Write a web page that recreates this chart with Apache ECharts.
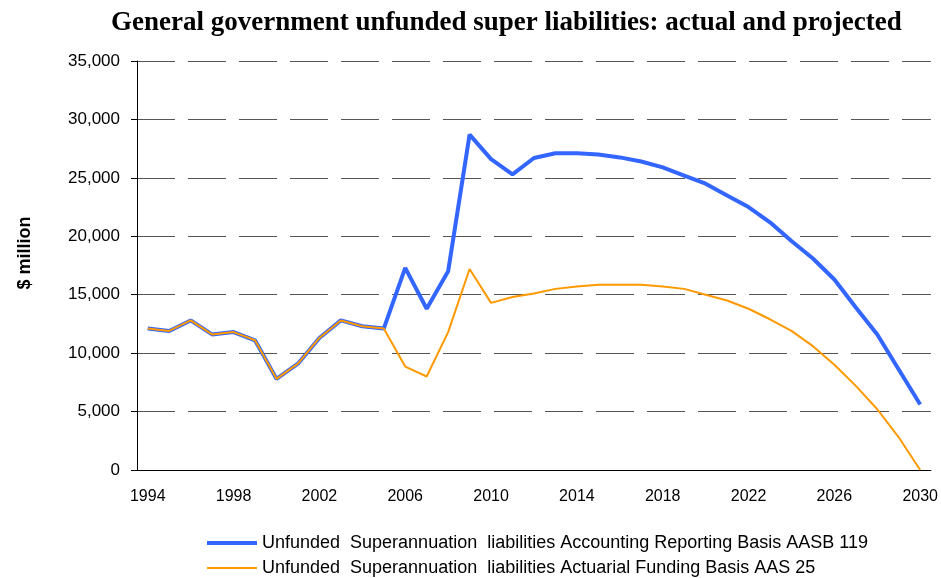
<!DOCTYPE html>
<html>
<head>
<meta charset="utf-8">
<script src="https://cdn.jsdelivr.net/npm/echarts@6/dist/echarts.min.js"></script>
<style>
  html, body { margin: 0; padding: 0; background: #fff; }
  #chart { width: 941px; height: 578px; }
</style>
</head>
<body>
<div id="chart"></div>
<script>
var years = [];
for (var y = 1994; y <= 2030; y++) years.push(String(y));

var aasb119 = [12100, 11900, 12800, 11600, 11800, 11100, 7800, 9100, 11300, 12800, 12300, 12100,
  17300, 13800, 17000, 28700, 26600, 25300, 26700, 27100, 27100, 27000, 26750, 26400, 25900,
  25200, 24500, 23500, 22500, 21200, 19600, 18100, 16300, 13900, 11600, 8600, 5600];

var aas25 = [12100, 11900, 12800, 11600, 11800, 11100, 7800, 9100, 11300, 12800, 12300, 12100,
  8850, 8000, 11800, 17200, 14300, 14800, 15100, 15500, 15700, 15850, 15850, 15850, 15700,
  15500, 15000, 14500, 13800, 12900, 11900, 10600, 9000, 7200, 5200, 2800, 0];

var names = ['Unfunded  Superannuation  liabilities Accounting Reporting Basis AASB 119',
  'Unfunded  Superannuation  liabilities Actuarial Funding Basis AAS 25'];

var myChart = echarts.init(document.getElementById('chart'));

var option = {
    animation: false,
    title: {
        text: 'General government unfunded super liabilities: actual and projected',
        left: 106,
        top: 5,
        textStyle: { fontFamily: 'Liberation Serif', fontWeight: 'bold', fontSize: 27, color: '#000' }
    },
    color: ['#3366ff', '#ff9900'],
    grid: { left: 137, right: 10, top: 61, bottom: 108 },
    legend: {
        orient: 'vertical',
        left: 205,
        top: 534,
        padding: 0,
        itemWidth: 50,
        itemHeight: 18,
        itemGap: 7,
        itemStyle: { opacity: 0 },
        textStyle: { fontFamily: 'Liberation Sans', fontSize: 18, color: '#000' },
        data: [
            { name: names[0], lineStyle: { width: 4, color: '#3366ff' } },
            { name: names[1], lineStyle: { width: 2, color: '#ff9900' } }
        ]
    },
    xAxis: {
        type: 'category',
        data: years,
        boundaryGap: true,
        axisLine: { lineStyle: { color: '#000', width: 1 } },
        axisTick: { interval: 0, length: 5, lineStyle: { color: '#000' } },
        axisLabel: { interval: 3, color: '#000', fontFamily: 'Liberation Sans', fontSize: 16, margin: 19 },
        splitLine: { show: false }
    },
    yAxis: {
        type: 'value',
        min: 0,
        max: 35000,
        interval: 5000,
        name: '$ million',
        nameLocation: 'middle',
        nameGap: 103,
        nameRotate: 90,
        nameTextStyle: { fontFamily: 'Liberation Sans', fontWeight: 'bold', fontSize: 18, color: '#000', padding: [0, 0, 0, 25] },
        axisLine: { show: true, lineStyle: { color: '#000', width: 1 } },
        axisTick: { show: true, length: 6, lineStyle: { color: '#000' } },
        axisLabel: {
            color: '#000', fontFamily: 'Liberation Sans', fontSize: 17, margin: 17,
            formatter: function (v) { return v.toLocaleString('en-US'); }
        },
        splitLine: { lineStyle: { color: '#555', width: 1, type: [38, 13] } }
    },
    series: [
        {
            name: names[0],
            type: 'line',
            data: aasb119,
            symbol: 'none',
            lineStyle: { width: 4, color: '#3366ff' }
        },
        {
            name: names[1],
            type: 'line',
            data: aas25,
            symbol: 'none',
            lineStyle: { width: 2, color: '#ff9900' }
        }
    ]
};

myChart.setOption(option);
</script>
</body>
</html>
